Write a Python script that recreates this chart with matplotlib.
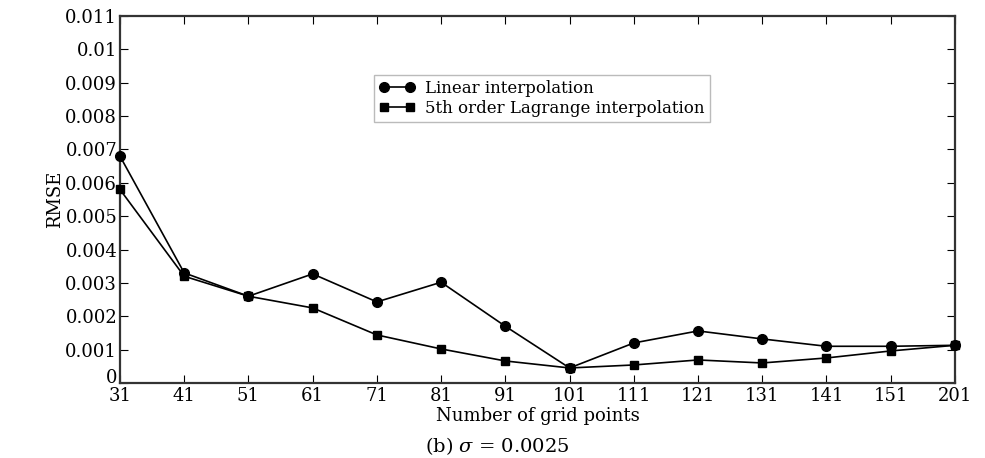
import matplotlib
matplotlib.use("Agg")
import matplotlib.pyplot as plt
import matplotlib.transforms as mtransforms

plt.rcParams['font.family'] = ['DejaVu Serif']
plt.rcParams['mathtext.fontset'] = 'dejavuserif'

# Data
grid_points = ["31", "41", "51", "61", "71", "81", "91", "101",
               "111", "121", "131", "141", "151", "201"]
linear_rmse = [0.0068, 0.0033, 0.0026, 0.00327, 0.00243, 0.00302, 0.0017,
               0.00045, 0.0012, 0.00156, 0.00132, 0.0011, 0.0011, 0.00113]
lagrange_rmse = [0.0058, 0.0032, 0.0026, 0.00225, 0.00144, 0.00102, 0.00066,
                 0.00045, 0.00054, 0.00069, 0.0006, 0.00075, 0.00096, 0.00113]
y_ticks = [0, 0.001, 0.002, 0.003, 0.004, 0.005, 0.006, 0.007, 0.008,
           0.009, 0.01, 0.011]
y_labels = ["0", "0.001", "0.002", "0.003", "0.004", "0.005", "0.006",
            "0.007", "0.008", "0.009", "0.01", "0.011"]

fig = plt.figure(figsize=(9.85, 4.58), dpi=100)
ax = fig.add_axes([0.1218, 0.1638, 0.8477, 0.8012])

x = list(range(len(grid_points)))
ax.plot(x, linear_rmse, color="black", marker="o", markersize=7,
        linewidth=1.2, label="Linear interpolation", clip_on=False, zorder=3)
ax.plot(x, lagrange_rmse, color="black", marker="s", markersize=6,
        linewidth=1.2, label="5th order Lagrange interpolation", clip_on=False, zorder=3)

ax.set_xlim(0, len(grid_points) - 1)
ax.set_ylim(0, 0.011)
ax.set_xticks(x)
ax.set_xticklabels(grid_points)
ax.set_yticks(y_ticks)
ax.set_yticklabels(y_labels)
ax.tick_params(direction="in", top=True, right=True, length=6, width=0.8,
               labelsize=13, pad=2, colors="black")
ax.tick_params(axis="x", pad=3)
for s in ax.spines.values():
    s.set_linewidth(1.6)
    s.set_color("#333333")

# lift the "0" label a little so it clears the "31" below it
zero_lbl = ax.get_yticklabels()[0]
zero_lbl.set_transform(zero_lbl.get_transform() +
                       mtransforms.ScaledTranslation(0, 7 / 100, fig.dpi_scale_trans))

ax.set_xlabel("Number of grid points", fontsize=13, labelpad=1)
ax.set_ylabel("RMSE", fontsize=13, labelpad=1)

ax.legend(loc="upper left", bbox_to_anchor=(0.294, 0.862), fontsize=12,
          fancybox=False, edgecolor="#aaaaaa", handlelength=2.2, numpoints=2,
          borderpad=0.3, labelspacing=0.15, handletextpad=0.6)

fig.text(0.505, 0.012, r"(b) $\sigma$ = 0.0025", ha="center", fontsize=14)

fig.savefig("out.png", dpi=100)
